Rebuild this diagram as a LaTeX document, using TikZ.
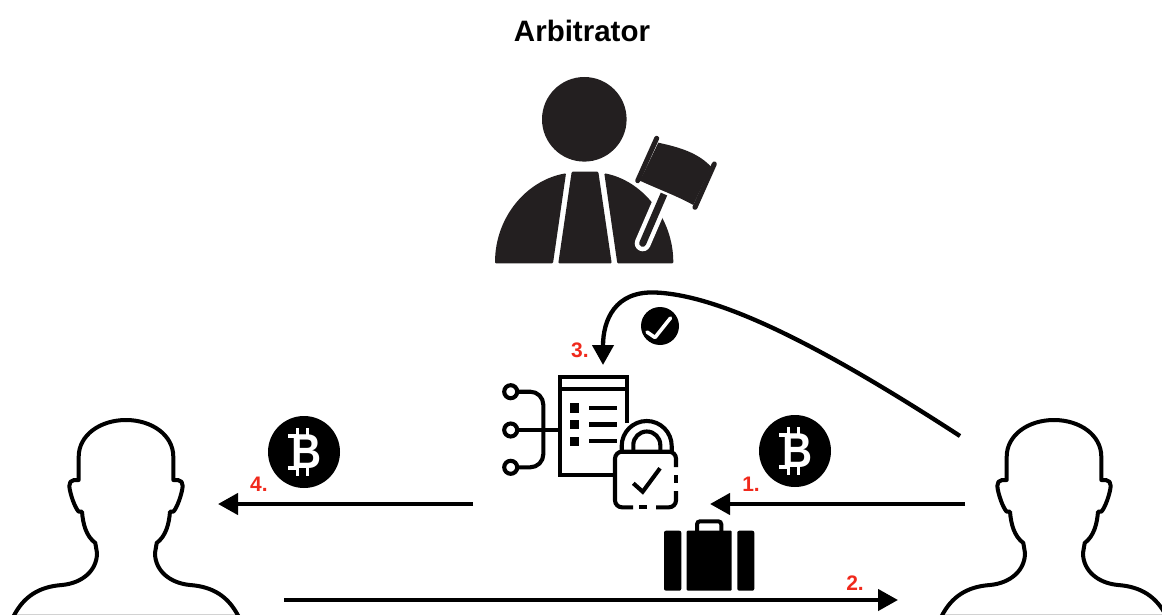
\documentclass[tikz,border=0pt]{standalone}
\usepackage{fontspec}
\setmainfont{Liberation Sans}
\usetikzlibrary{arrows.meta}
\definecolor{stepred}{HTML}{F0291C}
\definecolor{judgeblack}{HTML}{231F20}
\newcommand{\personside}{(0,0)
  .. controls (25.7,0) and (47.3,15) .. (47.3,36.7) -- (47.3,60) -- (52,60)
  .. controls (55,60) and (57,63) .. (56.7,66)
  .. controls (56,74) and (51,88) .. (47.3,91.7) -- (44,91.7)
  .. controls (43,104) and (40,116) .. (30.7,123) -- (29,133)
  .. controls (29,150) and (43,163) .. (64,165)
  .. controls (87.3,166.7) and (102.3,176.7) .. (112.3,196)}
\tikzset{
  flow/.style={line width=4.3pt,-{Triangle[length=20pt,width=21pt]}},
  icon/.style={line width=4.1pt},
  outline/.style={line width=4pt,line join=round},
  steplabel/.style={text=stepred,font=\bfseries\fontsize{21}{21}\selectfont,inner sep=0pt},
  coin/.style={circle,fill=black,minimum size=72pt,inner sep=0pt,text=white,font=\bfseries\fontsize{49}{49}\selectfont}
}
\begin{document}
\begin{tikzpicture}[x=1pt,y=-1pt]
  \useasboundingbox (0,0) rectangle (1162,615);

  \node[inner sep=0pt,font=\bfseries\fontsize{29.5}{29.5}\selectfont] (title) at (582,31) {Arbitrator};

  % arbitrator
  \fill[judgeblack] (584.3,119.3) circle (42.3);
  \fill[judgeblack,rounded corners=1pt] (495,263.3) .. controls (495,217) and (526.7,180) .. (566,173.3) -- (553,263.3) -- cycle;
  \fill[judgeblack,rounded corners=1pt] (571.7,171.7) -- (598.3,171.7) -- (611.7,263.3) -- (558.3,263.3) -- cycle;
  \fill[judgeblack,rounded corners=1pt] (604.3,173.3) .. controls (641,180) and (673.3,217) .. (673.3,263.3) -- (617.3,263.3) -- cycle;
  % gavel
  \draw[white,line width=16pt,line cap=round] (664.3,193.3) -- (642.7,243.3);
  \draw[judgeblack,line width=7pt,line cap=round] (664.3,193.3) -- (642.7,243.3);
  \path[fill=judgeblack,draw=white,line width=5pt] (658.3,142.7) .. controls (685,148.3) and (700,155) .. (711,166.7)
    -- (693.3,205) .. controls (675,195) and (660,190) .. (640,180.7) -- cycle;
  \fill[judgeblack] (658.3,142.7) .. controls (685,148.3) and (700,155) .. (711,166.7)
    -- (693.3,205) .. controls (675,195) and (660,190) .. (640,180.7) -- cycle;
  \draw[judgeblack,line width=5pt,line cap=round] (656.7,138.3) -- (637.7,180.7);
  \draw[judgeblack,line width=5pt,line cap=round] (714.3,164) -- (695,207.3);

  % contract
  \draw[icon] (626.7,423) -- (626.7,376.7) -- (560.3,376.7) -- (560.3,475) -- (613,475);
  \draw[icon] (560.3,389.3) -- (626.7,389.3);
  \foreach \y in {403.3,420,436.7}
  {
    \fill (570,\y) rectangle (579.3,\y+9.4);
    \draw[icon] (589,\y+4.5) -- (617.3,\y+4.5);
  }
  \foreach \y in {391.7,430,467.3}
  {
    \draw[icon] (510.7,\y) circle (6.5);
  }
  \draw[icon] (517.5,430) -- (560.3,430);
  \draw[icon,rounded corners=13pt] (517.5,391.7) -- (543.3,391.7) -- (543.3,467.3) -- (517.5,467.3);
  % lock
  \draw[icon] (621.7,451) -- (621.7,446) arc (180:360:25 and 25) -- (671.7,451);
  \draw[icon] (633.3,451) -- (633.3,445) arc (180:360:13.5 and 13.5) -- (660.3,451);
  \draw[icon,rounded corners=7pt] (676,467) -- (676,451.7) -- (615,451.7) -- (615,507.3) -- (633,507.3);
  \draw[icon] (639,507.3) -- (647,507.3);
  \draw[icon,rounded corners=7pt] (656,507.3) -- (676,507.3) -- (676,491);
  \draw[icon] (676,475) -- (676,483);
  \draw[icon] (633.3,483.3) -- (642.7,491.7) -- (660,468.3);

  % case
  \fill[rounded corners=2pt] (664,530.7) rectangle (681.3,590.7);
  \fill[rounded corners=1pt] (686.7,530.7) rectangle (731.7,590.7);
  \fill[rounded corners=2pt] (737.3,530.7) rectangle (754.3,590.7);
  \draw[line width=4pt,rounded corners=3pt] (697,531) -- (697,521.3) -- (721.3,521.3) -- (721.3,531);

  % persons
  \foreach \p in {126,1054}
  {
    \begin{scope}[xshift=\p pt,yshift=-420pt]
      \draw[gray!35,line width=1pt] (-112,194.5) -- (112,194.5);
      \draw[outline] \personside;
      \begin{scope}[xscale=-1]
        \draw[outline] \personside;
      \end{scope}
    \end{scope}
  }

  % coins
  \node[coin] (coinleft) at (304,452) {\hspace*{5pt}\scalebox{.85}[1]{B}};
  \node[coin] (coinright) at (795,451) {\hspace*{5pt}\scalebox{.85}[1]{B}};
  \foreach \c in {coinleft,coinright}
  {
    \foreach \b in {-6.5,3.5}
    {
      \draw[white,line width=3.4pt] ([shift={(\b,-24)}]\c.center) -- ([shift={(\b,-15)}]\c.center);
      \draw[white,line width=3.4pt] ([shift={(\b,15)}]\c.center) -- ([shift={(\b,24)}]\c.center);
    }
    \draw[white,line width=3.4pt] ([shift={(-16,-16)}]\c.center) -- ([shift={(-8,-16)}]\c.center);
    \draw[white,line width=3.4pt] ([shift={(-16,16)}]\c.center) -- ([shift={(-8,16)}]\c.center);
  }
  \node[circle,fill=black,minimum size=38pt,inner sep=0pt] (okcoin) at (660,326) {};
  \draw[white,line width=3.6pt,line cap=round,line join=round] ([shift={(-13,6)}]okcoin.center) -- ([shift={(-5,11.5)}]okcoin.center) -- ([shift={(10.5,-8)}]okcoin.center);

  % connectors
  \coordinate (buyerfrom) at (965,504);
  \coordinate (contractin) at (710,504);
  \coordinate (contractout) at (473,504);
  \coordinate (sellerin) at (218,504);
  \coordinate (sellerfrom) at (284,600);
  \coordinate (buyerin) at (898,600);
  \coordinate (confirmfrom) at (960,436);
  \coordinate (confirmin) at (603,365);
  \draw[flow] (buyerfrom) -- (contractin);
  \draw[flow] (contractout) -- (sellerin);
  \draw[flow] (sellerfrom) -- (buyerin);
  \draw[flow] (confirmfrom) .. controls (820,345) and (720,295) .. (655,292.5)
    .. controls (615,291) and (603,320) .. (confirmin);

  \node[steplabel] (stepone) at (751,484) {1.};
  \node[steplabel] (steptwo) at (855,583) {2.};
  \node[steplabel] (stepthree) at (580,350) {3.};
  \node[steplabel] (stepfour) at (259,484) {4.};
\end{tikzpicture}
\end{document}
